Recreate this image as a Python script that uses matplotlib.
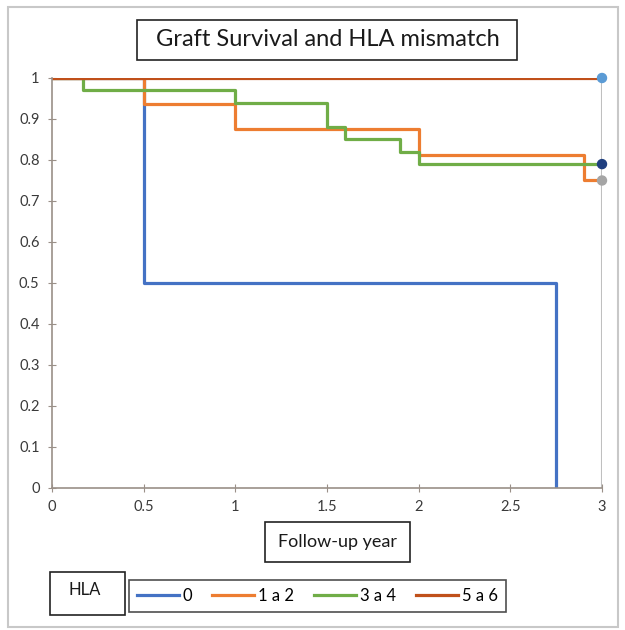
import matplotlib
matplotlib.use('Agg')
import matplotlib.pyplot as plt
from matplotlib.patches import Rectangle

plt.rcParams['font.family'] = ['Lato', 'DejaVu Sans']

# Kaplan-Meier style survival steps per HLA mismatch group
t_0 = [0, 0.5, 2.75]
s_0 = [1, 0.5, 0]
t_12 = [0, 0.5, 1, 2, 2.9, 3]
s_12 = [1, 0.9375, 0.875, 0.8125, 0.75, 0.75]
t_34 = [0, 0.167, 1, 1.5, 1.6, 1.9, 2, 3]
s_34 = [1, 0.97, 0.94, 0.88, 0.85, 0.82, 0.79, 0.79]
t_56 = [0, 3]
s_56 = [1, 1]

labels = ['0', '1 a 2', '3 a 4', '5 a 6']
colors = ['#4472C4', '#ED7D31', '#70AD47', '#C0501A']

# end-of-follow-up markers
end_x = [3, 3, 3]
end_y = [1, 0.79, 0.75]
end_colors = ['#5B9BD5', '#1F3F7F', '#A5A5A5']

xticks = [0, 0.5, 1, 1.5, 2, 2.5, 3]
xticklabels = ['0', '0.5', '1', '1.5', '2', '2.5', '3']
yticks = [0, 0.1, 0.2, 0.3, 0.4, 0.5, 0.6, 0.7, 0.8, 0.9, 1]
yticklabels = ['0', '0.1', '0.2', '0.3', '0.4', '0.5', '0.6', '0.7', '0.8', '0.9', '1']

fig = plt.figure(figsize=(6.25, 6.3), dpi=100)
ax = fig.add_axes([0.0832, 0.2254, 0.88, 0.6508])

ax.plot([3, 3], [0, 1], color='#BFBFBF', lw=1.5, zorder=1)
series = [(t_0, s_0), (t_12, s_12), (t_34, s_34), (t_56, s_56)]
for (t, s), lab, c in zip(series, labels, colors):
    ax.step(t, s, where='post', color=c, lw=2.3, label=lab, zorder=2)
ax.scatter(end_x, end_y, c=end_colors, s=42, zorder=3, clip_on=False)

ax.set_xlim(0, 3)
ax.set_ylim(0, 1)
ax.set_xticks(xticks)
ax.set_xticklabels(xticklabels)
ax.set_yticks(yticks)
ax.set_yticklabels(yticklabels)
ax.tick_params(direction='inout', length=6, color='#9A9088', labelsize=10.5,
               labelcolor='#3a3a3a', pad=6)
for side in ['top', 'right']:
    ax.spines[side].set_visible(False)
for side in ['left', 'bottom']:
    ax.spines[side].set_color('#9A9088')
    ax.spines[side].set_linewidth(1.2)

# title box
fig.patches.append(Rectangle((137 / 625, 1 - 60 / 630), 380 / 625, 40 / 630,
                             transform=fig.transFigure, fill=False, ec='#222222', lw=1.2))
fig.text(0.524, 1 - 40 / 630, 'Graft Survival and HLA mismatch', ha='center', va='center',
         fontsize=17, color='#1a1a1a')

# x label box
fig.patches.append(Rectangle((265 / 625, 1 - 562 / 630), 145 / 625, 40 / 630,
                             transform=fig.transFigure, fill=False, ec='#222222', lw=1.2))
fig.text(337.5 / 625, 1 - 542 / 630, 'Follow-up year', ha='center', va='center',
         fontsize=13, color='#1a1a1a')

# legend title box
fig.patches.append(Rectangle((50 / 625, 1 - 615 / 630), 75 / 625, 43 / 630,
                             transform=fig.transFigure, fill=False, ec='#222222', lw=1.2))
fig.text(68 / 625, 1 - 590 / 630, 'HLA', ha='left', va='center', fontsize=12,
         color='#1a1a1a')

leg = fig.legend(loc='center', bbox_to_anchor=(317.5 / 625, 1 - 596 / 630), ncol=4,
                 frameon=True, fontsize=12, handlelength=2.5, handletextpad=0.25,
                 columnspacing=1.2, borderpad=0.5, fancybox=False, edgecolor='#222222')
leg.get_frame().set_linewidth(1.2)

# outer border of the chart
fig.patches.append(Rectangle((0.012, 0.004), 0.976, 0.985, transform=fig.transFigure,
                             fill=False, ec='#C8C8C8', lw=1.5))

plt.savefig('out.png', dpi=100, facecolor='white')
